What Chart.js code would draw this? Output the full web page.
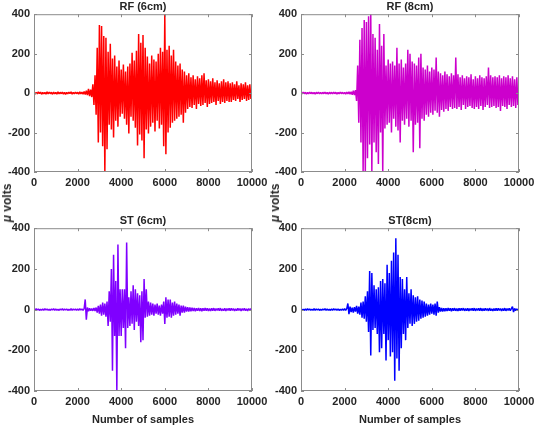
<!DOCTYPE html>
<html>
<head>
<meta charset="utf-8">
<script src="https://cdn.jsdelivr.net/npm/chart.js@4.4.1/dist/chart.umd.min.js"></script>
<style>
  body { margin: 0; background: #fff; }
  #wrap { position: relative; width: 546px; height: 435px; overflow: hidden; }
  canvas { position: absolute; }
  .ylab {
    position: absolute; font: bold 12px "Liberation Sans", Arial, sans-serif; color: #262626;
    white-space: nowrap; transform: translate(-50%, -50%) rotate(-90deg);
  }
</style>
</head>
<body>
<div id="wrap">
  <canvas id="rf6" width="273" height="200" style="left:0;top:0"></canvas>
  <canvas id="rf8" width="273" height="200" style="left:273px;top:0"></canvas>
  <canvas id="st6" width="273" height="235" style="left:0;top:200px"></canvas>
  <canvas id="st8" width="273" height="235" style="left:273px;top:200px"></canvas>
  <div class="ylab" style="left:7px;top:203px"><i>μ</i> volts</div>
  <div class="ylab" style="left:275px;top:203px"><i>μ</i> volts</div>
</div>
<script>
// one value every 50 samples, one row = 1000 samples
const sampleStep = 50;
const xTicks = [0, 2000, 4000, 6000, 8000, 10000];
const yTicks = [-400, -200, 0, 200, 400];
const titles = ["RF (6cm)", "RF (8cm)", "ST (6cm)", "ST(8cm)"];
const xLabel = "Number of samples";

const rf6 = [
  4,-5,3,-4,6,-3,5,-6,4,-4,3,-5,6,-4,5,-3,4,-6,5,-4,
  3,-5,6,-4,4,-3,5,-5,4,-6,3,-4,5,-3,6,-5,4,-4,5,-3,
  4,-5,6,-4,5,-6,8,-7,12,-10,22,-15,18,-20,45,-60,90,-110,230,-250,
  345,-200,340,-270,290,-400,280,-285,210,-160,250,-185,175,-225,190,-140,135,-170,165,-120,
  120,-105,145,-130,110,-160,135,-205,150,-120,205,-140,165,-175,215,-265,300,-210,255,-240,
  295,-330,230,-185,185,-205,150,-170,190,-150,170,-195,160,-140,200,-180,230,-160,210,-270,
  400,-310,220,-200,240,-175,190,-150,220,-140,160,-130,140,-120,150,-110,120,-150,110,-100,
  90,-80,100,-70,80,-75,90,-60,70,-80,85,-55,75,-65,90,-60,100,-50,65,-70,
  70,-55,60,-50,75,-45,55,-60,65,-40,50,-55,60,-45,70,-50,55,-40,60,-45,
  50,-45,55,-35,45,-40,60,-30,40,-45,50,-35,45,-30,55,-40,40,-35,45,-30,
  20
];

const rf8 = [
  3,-4,5,-3,4,-5,3,-4,5,-3,4,-4,3,-5,4,-3,5,-4,3,-4,
  4,-3,5,-4,3,-5,4,-3,4,-4,5,-3,4,-5,3,-4,5,-3,4,-4,
  4,-5,5,-4,6,-5,7,-8,12,-10,15,-40,140,-150,270,-250,330,-400,370,-400,
  360,-330,390,-260,400,-400,300,-250,280,-300,220,-360,350,-200,240,-400,300,-180,140,-160,
  170,-150,150,-200,160,-130,140,-170,230,-190,150,-250,170,-140,130,-160,150,-130,220,-170,
  200,-140,160,-300,150,-160,140,-150,180,-280,200,-130,130,-140,120,-110,140,-120,110,-100,
  130,-110,120,-90,180,-100,110,-120,100,-85,90,-95,110,-80,95,-90,85,-70,100,-80,
  90,-75,180,-80,95,-70,80,-85,90,-60,75,-80,85,-70,80,-65,95,-75,70,-80,
  85,-70,75,-80,90,-65,80,-85,75,-70,85,-60,130,-75,90,-70,80,-65,85,-75,
  80,-70,90,-90,75,-65,85,-70,80,-80,90,-60,75,-70,85,-65,70,-75,80,-60,
  30
];

const st6 = [
  3,-3,4,-2,3,-4,2,-3,3,-3,4,-2,3,-3,2,-4,3,-2,4,-3,
  3,-3,2,-4,3,-2,4,-3,3,-2,3,-4,2,-3,4,-3,3,-2,3,-4,
  3,-3,4,-2,3,-4,5,50,-50,10,-8,6,-5,5,-6,8,-7,10,-15,18,
  -20,25,-30,35,-25,30,-35,40,-80,90,-60,200,-300,270,-130,140,-400,320,-130,100,
  -130,100,-90,100,-190,330,-90,60,-80,90,-70,120,-100,100,-60,80,-80,70,-160,90,
  -150,150,-40,100,-35,40,-30,35,-25,30,-30,25,-20,30,-25,20,-30,25,-20,40,
  -70,60,-40,50,-35,50,-40,35,-30,40,-25,30,-20,25,-30,20,-15,20,-15,15,
  -10,12,-10,10,-8,9,-7,8,-8,7,-6,8,-7,6,-8,7,-6,8,-5,6,
  -6,5,-7,6,-5,7,-6,5,-4,6,-5,7,-6,4,-5,6,-7,5,-4,6,
  -5,6,-4,5,-6,4,-5,6,-4,5,-6,5,-4,6,-5,4,-6,5,-4,5,
  -3
];

const st8 = [
  3,-3,2,-4,3,-3,4,-2,3,-3,2,-3,4,-3,3,-2,3,-4,2,-3,
  3,-2,4,-3,3,-3,2,-4,3,-3,4,-2,3,-3,3,-4,2,-3,3,-3,
  4,-3,5,30,-22,15,-12,10,-15,12,-10,18,-20,15,-25,35,-40,40,-45,65,
  -60,90,-110,190,-225,180,-100,120,-90,100,-120,110,-210,140,-190,150,-120,130,-250,220,
  -150,180,-230,240,-210,280,-350,350,-240,270,-300,160,-190,150,-120,100,-150,160,-90,80,
  -70,100,-80,70,-70,60,-60,65,-55,50,-45,45,-40,40,-35,30,-30,25,-25,30,
  -20,25,-25,30,-30,40,-15,12,-10,8,-9,7,-8,6,-7,8,-6,7,-8,6,
  -5,7,-6,5,-7,6,-5,6,-4,7,-6,5,-5,6,-7,5,-4,6,-5,7,
  -6,5,-4,6,-5,7,-6,5,-5,6,-4,5,-6,7,-5,4,-6,5,-5,6,
  -5,6,-4,5,-6,5,-5,7,-6,5,-4,6,-5,5,15,-12,6,-5,4,-5,
  3
];

const fontFamily = '"Liberation Sans", Arial, sans-serif';
const textColor = "#262626";

// MATLAB-like box with ticks pointing inward
const boxTicks = {
  id: "boxTicks",
  afterDraw(chart) {
    const { ctx, chartArea: a, scales } = chart;
    const x = scales.x, y = scales.y;
    ctx.save();
    ctx.strokeStyle = "#8c8c8c";
    ctx.lineWidth = 1;
    ctx.strokeRect(a.left + 0.5, a.top + 0.5, a.width - 1, a.height - 1);
    ctx.beginPath();
    x.ticks.forEach((t) => {
      const px = Math.round(x.getPixelForValue(t.value)) + 0.5;
      ctx.moveTo(px, a.bottom); ctx.lineTo(px, a.bottom - 3);
      ctx.moveTo(px, a.top); ctx.lineTo(px, a.top + 3);
    });
    y.ticks.forEach((t) => {
      const py = Math.round(y.getPixelForValue(t.value)) + 0.5;
      ctx.moveTo(a.left, py); ctx.lineTo(a.left + 3, py);
      ctx.moveTo(a.right, py); ctx.lineTo(a.right - 3, py);
    });
    ctx.stroke();
    ctx.restore();
  },
};

const makeChart = (id, values, color, title, cfg) => {
  const points = values.map((v, i) => ({ x: i * sampleStep, y: v }));
  return new Chart(document.getElementById(id), {
    type: "line",
    data: {
      datasets: [{
        data: points, borderColor: color, borderWidth: 1.5, borderJoinStyle: "bevel",
        pointRadius: 0, tension: 0,
      }],
    },
    options: {
      responsive: false,
      animation: false,
      devicePixelRatio: 1,
      layout: { padding: { top: cfg.padTop, right: cfg.padRight, left: 0, bottom: 0 } },
      plugins: {
        legend: { display: false },
        tooltip: { enabled: false },
        title: {
          display: true, text: title, fullSize: false, color: textColor,
          font: { family: fontFamily, size: 11, weight: "bold", lineHeight: 1.2 },
          padding: { top: 0, bottom: 1 },
        },
      },
      scales: {
        x: {
          type: "linear", min: xTicks[0], max: xTicks[xTicks.length - 1],
          afterBuildTicks: (s) => { s.ticks = xTicks.map((v) => ({ value: v })); },
          grid: { display: false, drawTicks: false },
          border: { display: false },
          ticks: {
            padding: 4, color: textColor, maxRotation: 0, autoSkip: false,
            font: { family: fontFamily, size: 11, weight: "bold" },
            callback: (v) => String(v),
          },
          title: {
            display: cfg.showXLabel, text: xLabel, color: textColor,
            font: { family: fontFamily, size: 11, weight: "bold", lineHeight: 1.2 },
            padding: { top: 0, bottom: 8 },
          },
          afterFit: (s) => { s.height = cfg.xHeight; },
        },
        y: {
          min: yTicks[0], max: yTicks[yTicks.length - 1],
          afterBuildTicks: (s) => { s.ticks = yTicks.map((v) => ({ value: v })); },
          grid: { display: false, drawTicks: false },
          border: { display: false },
          ticks: {
            padding: 4, color: textColor,
            font: { family: fontFamily, size: 11, weight: "bold" },
            callback: (v) => String(v),
          },
          afterFit: (s) => { s.width = cfg.yWidth; },
        },
      },
    },
    plugins: [boxTicks],
  });
};

makeChart("rf6", rf6, "rgb(255,0,0)", titles[0],
  { padTop: 0, padRight: 21, xHeight: 28, yWidth: 34, showXLabel: false });
makeChart("rf8", rf8, "rgb(204,0,204)", titles[1],
  { padTop: 0, padRight: 27, xHeight: 28, yWidth: 28, showXLabel: false });
makeChart("st6", st6, "rgb(127,0,255)", titles[2],
  { padTop: 14, padRight: 21, xHeight: 44, yWidth: 34, showXLabel: true });
makeChart("st8", st8, "rgb(0,0,255)", titles[3],
  { padTop: 14, padRight: 27, xHeight: 44, yWidth: 28, showXLabel: true });
</script>
</body>
</html>
